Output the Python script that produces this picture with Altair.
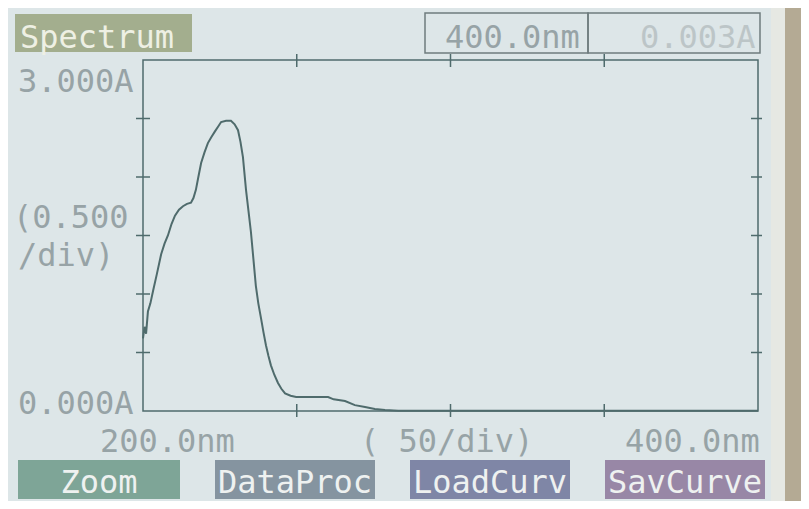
import altair as alt
import pandas as pd

# ---- data ----
wavelength_nm = [200.0, 200.5, 201.0, 201.6, 202.4, 203.3, 204.5, 205.9, 207.0, 208.1,
                 209.3, 210.4, 211.7, 213.0, 214.3, 215.6, 216.4, 217.2, 218.0, 218.9,
                 220.0, 221.1, 222.2, 223.4, 224.4, 225.4, 227.0, 228.6, 229.8, 230.9,
                 231.7, 232.5, 233.5, 234.3, 235.1, 235.9, 236.7, 237.5, 238.4, 239.2,
                 240.0, 240.8, 241.6, 242.7, 243.9, 245.0, 246.2, 248.0, 249.8, 255.0,
                 260.2, 262.0, 265.7, 268.9, 272.2, 275.4, 278.7, 283.0, 350.0, 400.0]
absorbance = [0.62, 0.72, 0.66, 0.85, 0.92, 1.03, 1.17, 1.34, 1.43, 1.50,
              1.60, 1.67, 1.72, 1.75, 1.77, 1.78, 1.82, 1.89, 2.00, 2.12,
              2.21, 2.29, 2.34, 2.39, 2.43, 2.47, 2.48, 2.48, 2.45, 2.40,
              2.30, 2.17, 1.89, 1.71, 1.53, 1.30, 1.07, 0.92, 0.79, 0.67,
              0.56, 0.47, 0.39, 0.31, 0.24, 0.19, 0.15, 0.13, 0.12, 0.12,
              0.12, 0.10, 0.085, 0.05, 0.034, 0.017, 0.008, 0.003, 0.003, 0.003]
y_ticks = [0.5, 1.0, 1.5, 2.0, 2.5]
x_ticks = [250, 300, 350]
buttons = ["Zoom", "DataProc", "LoadCurv", "SavCurve"]

W, H = 615, 351
FONT = "DejaVu Sans Mono"
LINE = "#4f6b6c"
TXT = "#97a3a6"

df = pd.DataFrame({"wl": wavelength_nm, "A": absorbance})
xs = alt.Scale(domain=[200, 400], nice=False, zero=False)
ys = alt.Scale(domain=[0, 3], nice=False)

base = alt.Chart(df)

curve = base.mark_line(color=LINE, strokeWidth=2, interpolate="linear").encode(
    x=alt.X("wl:Q", scale=xs, axis=None),
    y=alt.Y("A:Q", scale=ys, axis=None),
)

ydf = pd.DataFrame({"t": y_ticks})
xdf = pd.DataFrame({"t": x_ticks})
yt_left = alt.Chart(ydf).mark_rule(color=LINE, strokeWidth=1.5).encode(
    y=alt.Y("t:Q", scale=ys, axis=None), x=alt.value(-7), x2=alt.value(7))
yt_right = alt.Chart(ydf).mark_rule(color=LINE, strokeWidth=1.5).encode(
    y=alt.Y("t:Q", scale=ys, axis=None), x=alt.value(W - 7), x2=alt.value(W + 4))
xt_top = alt.Chart(xdf).mark_rule(color=LINE, strokeWidth=1.5).encode(
    x=alt.X("t:Q", scale=xs, axis=None), y=alt.value(-6), y2=alt.value(7))
xt_bot = alt.Chart(xdf).mark_rule(color=LINE, strokeWidth=1.5).encode(
    x=alt.X("t:Q", scale=xs, axis=None), y=alt.value(H - 7), y2=alt.value(H + 6))

layers = [curve, yt_left, yt_right, xt_top, xt_bot]


def box(x1, x2, y1, y2, fill, stroke=None, opacity=1.0):
    kw = dict(fill=fill, opacity=opacity)
    if stroke:
        kw.update(stroke=stroke, strokeWidth=1.5)
    return alt.Chart(df.head(1)).mark_rect(**kw).encode(
        x=alt.value(x1), x2=alt.value(x2), y=alt.value(y1), y2=alt.value(y2))


def label(text, x, y, color=TXT, align="left", size=32):
    return alt.Chart(df.head(1)).mark_text(
        text=text, font=FONT, fontSize=size, color=color, align=align,
        baseline="alphabetic").encode(x=alt.value(x), y=alt.value(y))


# right photo edge
layers.append(box(642, 660, -60, 445, "#b4aa94"))
layers.append(box(628, 642, -60, 445, "#e6e8e3"))

# header
layers.append(box(-128, 49, -46, -8, "#a3ae8e"))
layers.append(label("Spectrum", -123, -12, color="#eef0e4"))
layers.append(box(282, 445, -47, -7, "none", stroke="#6f7c7e"))
layers.append(box(445, 617, -47, -7, "none", stroke="#6f7c7e"))
layers.append(label("400.0nm", 302, -12))
layers.append(label("0.003A", 497, -12, color="#bcc5c7"))

# y labels
layers.append(label("3.000A", -125, 32))
layers.append(label("(0.500", -130, 168))
layers.append(label("/div)", -125, 206))
layers.append(label("0.000A", -125, 354))

# x labels
layers.append(label("200.0nm", -43, 392))
layers.append(label("( 50/div)", 217, 392))
layers.append(label("400.0nm", 482, 392))

# buttons
btn_x = [(-125, 37), (72, 232), (267, 427), (462, 622)]
btn_fill = ["#7ea597", "#8594a0", "#7f86a6", "#9887a6"]
for name, (a, b), f in zip(buttons, btn_x, btn_fill):
    layers.append(box(a, b, 400, 439, f))
    layers.append(label(name, (a + b) / 2, 433, color="#eef1f0", align="center"))

chart = alt.layer(*layers).properties(
    width=W, height=H,
    autosize=alt.AutoSizeParams(type="none"),
    padding={"left": 135, "top": 52, "right": 43, "bottom": 90},
    background="#dde6e8",
).configure_view(stroke=LINE, strokeWidth=1.5)

chart.save("out.html", embed_options={"renderer": "svg", "actions": False})
